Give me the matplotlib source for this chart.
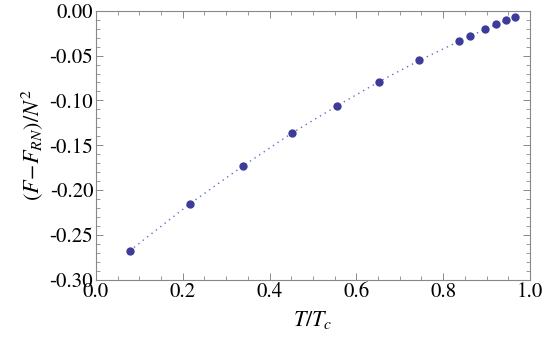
import matplotlib
matplotlib.use('Agg')
import matplotlib.pyplot as plt
from matplotlib.ticker import MultipleLocator, FormatStrFormatter

# data
t_ratio = [0.0776, 0.2166, 0.3395, 0.4516, 0.5545, 0.652, 0.745, 0.8356, 0.8618, 0.8963, 0.9217, 0.9447, 0.966]
free_energy = [-0.268, -0.2154, -0.173, -0.1365, -0.1064, -0.0792, -0.0554, -0.0342, -0.0282, -0.0208, -0.0152, -0.0107, -0.0067]

plt.rcParams['font.family'] = ['STIXGeneral', 'Liberation Serif', 'DejaVu Serif']
plt.rcParams['mathtext.fontset'] = 'stix'

fig = plt.figure(figsize=(5.45, 3.38), dpi=100)
ax = fig.add_axes([0.176, 0.173, 0.7965, 0.795])

ax.plot(t_ratio, free_energy, linestyle=(0, (1, 3)), color='#6a6ad0', lw=1.0)
ax.plot(t_ratio, free_energy, 'o', color='#3d3d99', ms=6, mec='none')

ax.set_xlim(0, 1)
ax.set_ylim(-0.3, 0.0)
ax.xaxis.set_major_locator(MultipleLocator(0.2))
ax.xaxis.set_minor_locator(MultipleLocator(0.05))
ax.yaxis.set_major_locator(MultipleLocator(0.05))
ax.yaxis.set_minor_locator(MultipleLocator(0.01))
ax.xaxis.set_major_formatter(FormatStrFormatter('%.1f'))
ax.yaxis.set_major_formatter(FormatStrFormatter('%.2f'))

for s in ax.spines.values():
    s.set_color('#888888')
    s.set_linewidth(0.8)
ax.tick_params(which='both', direction='in', top=True, right=True, color='#888888', labelsize=15, pad=2)
ax.tick_params(which='major', length=5, width=0.7)
ax.tick_params(which='minor', length=2.8, width=0.6)

ax.set_xlabel(r'$T/T_c$', fontsize=16, labelpad=5)
ax.set_ylabel(r'$(F\!-\!F_{RN})/N^2$', fontsize=16, labelpad=3)

fig.savefig('out.png', dpi=100)
